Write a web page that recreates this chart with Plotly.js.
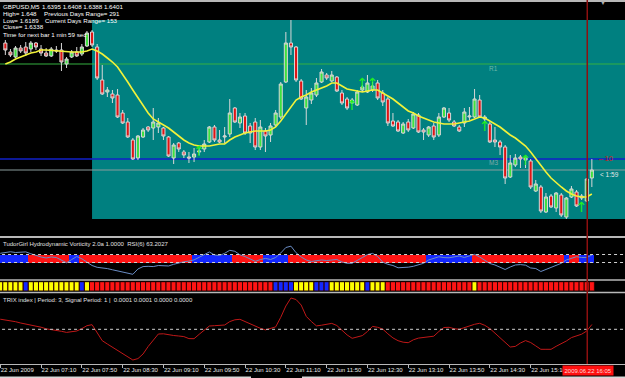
<!DOCTYPE html>
<html><head><meta charset="utf-8">
<script src="https://cdn.plot.ly/plotly-3.0.1.min.js"></script>
<style>html,body{margin:0;padding:0;background:#000;}#c{width:625px;height:378px;}</style>
</head><body><div id="c"></div>
<script>
// ---- price bars (GBPUSD M5, 22 Jun 2009, bars 06:35 .. 16:10) ----
const openP = [1.65026,1.64954,1.64914,1.64986,1.64994,1.64978,1.65026,1.64978,1.64946,1.64922,
1.64970,1.64970,1.64858,1.64914,1.64954,1.64938,1.65002,1.65114,1.64994,1.64730,
1.64634,1.64618,1.64610,1.64466,1.64394,1.64250,1.64106,1.64274,1.64354,1.64346,
1.64354,1.64346,1.64274,1.64106,1.64226,1.64154,1.64114,1.64114,1.64154,1.64178,
1.64234,1.64354,1.64250,1.64274,1.64298,1.64506,1.64386,1.64442,1.64362,1.64394,
1.64194,1.64322,1.64290,1.64370,1.64434,1.64714,1.65026,1.64994,1.64722,1.64506,
1.64570,1.64610,1.64714,1.64770,1.64722,1.64754,1.64626,1.64578,1.64546,1.64530,
1.64650,1.64634,1.64650,1.64706,1.64626,1.64578,1.64402,1.64394,1.64306,1.64394,
1.64346,1.64450,1.64330,1.64290,1.64362,1.64290,1.64434,1.64466,1.64394,1.64354,
1.64386,1.64434,1.64434,1.64570,1.64418,1.64378,1.64250,1.64234,1.64194,1.63954,
1.64050,1.64114,1.64090,1.64082,1.63842,1.63874,1.63674,1.63802,1.63706,1.63810,
1.63634,1.63794,1.63834,1.63786,1.63762,1.63946];
const highP = [1.65050,1.64978,1.65002,1.65010,1.65034,1.65042,1.65034,1.65010,1.64986,1.64994,
1.65002,1.65026,1.64914,1.64970,1.64994,1.65018,1.65122,1.65130,1.65018,1.64850,
1.64674,1.64650,1.64658,1.64490,1.64426,1.64266,1.64290,1.64346,1.64362,1.64506,
1.64426,1.64354,1.64282,1.64226,1.64234,1.64170,1.64154,1.64186,1.64186,1.64250,
1.64362,1.64370,1.64330,1.64354,1.64578,1.64514,1.64466,1.64466,1.64386,1.64426,
1.64410,1.64346,1.64386,1.64490,1.64714,1.65114,1.65210,1.65002,1.64738,1.64650,
1.64666,1.64746,1.64818,1.64786,1.64802,1.64762,1.64650,1.64594,1.64586,1.64650,
1.64690,1.64770,1.64714,1.64730,1.64650,1.64594,1.64466,1.64410,1.64394,1.64418,
1.64474,1.64466,1.64346,1.64362,1.64386,1.64466,1.64514,1.64506,1.64410,1.64370,
1.64506,1.64514,1.64658,1.64610,1.64450,1.64394,1.64354,1.64250,1.64210,1.64130,
1.64138,1.64130,1.64130,1.64098,1.63930,1.63890,1.63826,1.63818,1.63834,1.63826,
1.63794,1.63882,1.63850,1.63818,1.63946,1.64098];
const lowP = [1.64930,1.64914,1.64906,1.64946,1.64922,1.64954,1.64970,1.64922,1.64914,1.64914,
1.64946,1.64802,1.64826,1.64906,1.64914,1.64922,1.64994,1.64994,1.64730,1.64610,
1.64594,1.64546,1.64426,1.64378,1.64266,1.64090,1.64090,1.64266,1.64314,1.64250,
1.64306,1.64250,1.64114,1.64058,1.64154,1.64106,1.64066,1.64074,1.64130,1.64154,
1.64226,1.64234,1.64226,1.64226,1.64274,1.64386,1.64346,1.64290,1.64226,1.64170,
1.64170,1.64154,1.64234,1.64354,1.64418,1.64706,1.64930,1.64714,1.64570,1.64370,
1.64538,1.64594,1.64706,1.64730,1.64714,1.64634,1.64530,1.64490,1.64538,1.64522,
1.64634,1.64626,1.64634,1.64570,1.64522,1.64362,1.64354,1.64314,1.64298,1.64314,
1.64338,1.64306,1.64250,1.64274,1.64250,1.64274,1.64426,1.64394,1.64354,1.64314,
1.64354,1.64410,1.64426,1.64426,1.64394,1.64226,1.64194,1.64130,1.63898,1.63946,
1.64034,1.64026,1.64026,1.63858,1.63834,1.63666,1.63666,1.63706,1.63674,1.63634,
1.63618,1.63786,1.63714,1.63770,1.63754,1.63874];
const closeP = [1.64970,1.64930,1.64986,1.64962,1.64946,1.65026,1.64994,1.64946,1.64922,1.64978,
1.64962,1.64874,1.64898,1.64954,1.64922,1.64994,1.65106,1.65010,1.64746,1.64618,
1.64650,1.64586,1.64434,1.64386,1.64274,1.64098,1.64282,1.64330,1.64330,1.64394,
1.64386,1.64282,1.64122,1.64210,1.64178,1.64130,1.64106,1.64138,1.64162,1.64218,
1.64354,1.64250,1.64234,1.64282,1.64466,1.64394,1.64434,1.64306,1.64306,1.64194,
1.64354,1.64282,1.64362,1.64466,1.64698,1.65026,1.64994,1.64730,1.64578,1.64594,
1.64626,1.64706,1.64794,1.64746,1.64770,1.64642,1.64546,1.64506,1.64570,1.64634,
1.64674,1.64706,1.64682,1.64586,1.64554,1.64386,1.64362,1.64322,1.64378,1.64330,
1.64458,1.64314,1.64314,1.64354,1.64274,1.64434,1.64506,1.64410,1.64362,1.64322,
1.64474,1.64442,1.64578,1.64434,1.64434,1.64234,1.64234,1.64194,1.63946,1.64066,
1.64106,1.64098,1.64106,1.63874,1.63898,1.63682,1.63794,1.63714,1.63826,1.63650,
1.63786,1.63858,1.63722,1.63802,1.63938,1.64010];
// yellow moving average (same bars as candles)
const maLine = [1.64858,1.64874,1.64898,1.64914,1.64930,1.64946,1.64954,1.64970,1.64970,1.64966,
1.64962,1.64958,1.64954,1.64954,1.64954,1.64954,1.64962,1.64978,1.64962,1.64938,
1.64906,1.64874,1.64834,1.64778,1.64714,1.64650,1.64586,1.64522,1.64466,1.64418,
1.64394,1.64370,1.64346,1.64314,1.64282,1.64250,1.64226,1.64210,1.64202,1.64202,
1.64202,1.64210,1.64218,1.64218,1.64250,1.64274,1.64290,1.64306,1.64314,1.64322,
1.64322,1.64322,1.64330,1.64354,1.64402,1.64458,1.64522,1.64570,1.64594,1.64610,
1.64634,1.64650,1.64666,1.64682,1.64706,1.64706,1.64682,1.64658,1.64650,1.64642,
1.64634,1.64642,1.64650,1.64650,1.64626,1.64602,1.64578,1.64546,1.64514,1.64482,
1.64466,1.64442,1.64426,1.64410,1.64394,1.64386,1.64378,1.64378,1.64378,1.64386,
1.64394,1.64402,1.64418,1.64434,1.64426,1.64402,1.64378,1.64354,1.64322,1.64290,
1.64266,1.64234,1.64202,1.64154,1.64098,1.64042,1.63994,1.63946,1.63906,1.63874,
1.63842,1.63818,1.63802,1.63794,1.63794,1.63818];
// signal arrows (bar index, price)
const arrowBars = [39,69,71,73,95,103,114];
const arrowPrices = [1.64154,1.64522,1.64698,1.64698,1.64354,1.64082,1.63706];
// levels
const levelR1 = 1.64858, levelBlue = 1.64098;
// ---- indicator panels, bars 06:30 .. 16:10 ----
const vortState = ["BBBBBB","RRRRRRRR","BB","RRRRRRRRRRRRRRRRRRRRRR","BBBBBBBB","RRRRRR","BBBBB",
"RRRRRRRRRRRRRRRRRRRRRRRRRRR","BBBBBBBBB","RRRRRRRRRRRRRRRRRR","B","RR","BBB"].join("");
const vortLine = [63.0,65.0,66.8,65.0,65.8,66.5,61.8,57.3,53.8,51.3,
53.8,52.5,46.3,39.3,47.3,55.0,49.3,39.8,32.5,28.0,
26.8,24.8,21.8,19.3,16.3,13.8,10.5,23.8,29.8,30.5,
29.8,32.5,32.3,31.3,35.5,39.0,41.8,43.5,46.5,53.0,
60.0,66.3,58.8,57.5,63.0,70.5,68.0,59.3,54.8,49.3,
43.0,47.3,50.3,47.5,52.5,63.8,77.5,80.8,64.5,53.8,
46.3,42.5,45.0,46.3,45.0,46.3,47.5,41.3,38.0,38.0,
46.3,52.5,59.8,62.8,55.0,40.8,35.5,32.5,26.8,26.8,
28.3,30.5,33.5,38.0,46.3,51.3,54.3,52.3,51.8,54.0,
56.3,52.5,56.3,60.5,53.8,46.3,37.5,33.8,27.5,22.5,
28.8,33.8,34.8,33.3,26.3,25.0,17.5,22.5,27.5,31.3,
38.0,46.3,50.5,54.5,52.5,52.5,58.8];
const squareState = ["YYYYY","B","YYYYYYYYYY","B","Y","RRRRRRRRRRRRRRRRRRRRRRRRRRRRRRRRRRRR","BBBB","YYYY","BBB",
"YYYYYYY","B","YYY","RRRRRRRRRRRRRRRRR","Y","RRRRRRRRRRRRRRRRRRRRRRR"].join("");
const trixLine = [0.000101,0.000095,0.000088,0.000076,0.000063,0.000053,0.000043,0.000033,0.000021,0.000005,
-0.000003,-0.000006,-0.000020,-0.000031,-0.000027,-0.000017,0.000007,0.000036,0.000046,-0.000032,
-0.000114,-0.000147,-0.000180,-0.000212,-0.000243,-0.000275,-0.000307,-0.000293,-0.000247,-0.000172,
-0.000105,-0.000047,-0.000045,-0.000057,-0.000062,-0.000067,-0.000073,-0.000093,-0.000094,-0.000050,
-0.000007,0.000033,0.000036,0.000040,0.000043,0.000077,0.000095,0.000100,0.000078,0.000053,
0.000027,0.000010,-0.000006,0.000010,0.000024,0.000120,0.000233,0.000313,0.000298,0.000243,
0.000129,0.000078,0.000034,0.000041,0.000050,0.000059,0.000038,-0.000007,-0.000056,-0.000090,
-0.000080,-0.000063,-0.000022,0.000029,0.000020,0.000002,-0.000045,-0.000086,-0.000114,-0.000129,
-0.000134,-0.000105,-0.000088,-0.000084,-0.000077,-0.000069,-0.000022,0.000018,0.000020,0.000006,
0.000000,0.000019,0.000035,0.000050,0.000060,0.000040,0.000008,-0.000037,-0.000085,-0.000132,
-0.000177,-0.000171,-0.000137,-0.000113,-0.000132,-0.000166,-0.000200,-0.000200,-0.000200,-0.000170,
-0.000145,-0.000117,-0.000083,-0.000062,-0.000049,-0.000017,0.000048];
// time axis
const tickIdx = [0,8,16,24,32,40,48,56,64,72,80,88,96,104];
const tickText = ["22 Jun 2009","22 Jun 07:10","22 Jun 07:50","22 Jun 08:30","22 Jun 09:10","22 Jun 09:50",
"22 Jun 10:30","22 Jun 11:10","22 Jun 11:50","22 Jun 12:30","22 Jun 13:10","22 Jun 13:50","22 Jun 14:30","22 Jun 15:10"];
const sessionStartBar = 18;   // 08:00
const currentBar = 115.1;     // 16:05 marker

const FONT = "Liberation Sans, Arial, sans-serif";
const W = 625, H = 378;
const firstCandle = 1;
const candleX = openP.map((_, k) => k + firstCandle);
const panelX = vortLine.map((_, k) => k);
const colMap = {B: "#1428ff", R: "#ff1414", Y: "#ffff00"};

// session box from data
let sHi = -Infinity, sLo = Infinity;
candleX.forEach((x, k) => { if (x >= sessionStartBar) { sHi = Math.max(sHi, highP[k]); sLo = Math.min(sLo, lowP[k]); } });

const traces = [
  {type: "candlestick", x: candleX, open: openP, high: highP, low: lowP, close: closeP,
   xaxis: "x", yaxis: "y", whiskerwidth: 0, hoverinfo: "skip",
   increasing: {fillcolor: "#3ee23e", line: {color: "#d8d8d8", width: 1}},
   decreasing: {fillcolor: "#e01414", line: {color: "#d8d8d8", width: 1}}},
  {type: "scatter", mode: "lines", x: candleX, y: maLine, xaxis: "x", yaxis: "y",
   line: {color: "#f2f23a", width: 1.6}, hoverinfo: "skip"},
  {type: "scatter", mode: "text", x: arrowBars, y: arrowPrices, text: arrowBars.map(() => "↑"),
   textfont: {family: "DejaVu Sans", size: 14, color: "#22ee22"}, xaxis: "x", yaxis: "y", hoverinfo: "skip"},
  {type: "bar", x: panelX, y: panelX.map(() => 20), base: 40, width: 1,
   marker: {color: vortState.split("").map(c => colMap[c]), line: {width: 0}},
   xaxis: "x", yaxis: "y2", hoverinfo: "skip"},
  {type: "scatter", mode: "lines", x: panelX, y: vortLine, xaxis: "x", yaxis: "y2",
   line: {color: "#6a8cc4", width: 1}, hoverinfo: "skip"},
  {type: "bar", x: panelX, y: panelX.map(() => 1), base: 0, width: 1,
   marker: {color: squareState.split("").map(c => colMap[c]), line: {width: 1, color: "#300000"}},
   xaxis: "x", yaxis: "y3", hoverinfo: "skip"},
  {type: "scatter", mode: "lines", x: panelX, y: trixLine, xaxis: "x", yaxis: "y4",
   line: {color: "#c01818", width: 1}, hoverinfo: "skip"}
];

const py = y => (H - y) / H, px = x => x / W;
function ann(text, x, y, size, color, extra) {
  return Object.assign({text: text, xref: "paper", yref: "paper", x: px(x), y: py(y), xanchor: "left", yanchor: "middle",
    showarrow: false, font: {family: FONT, size: size, color: color}}, extra || {});
}
const info = (text, x, y) => ann(text, x, y, 6.2, "#ffffff");
const sep = (y0, y1) => ({type: "rect", xref: "paper", yref: "paper", x0: 0, x1: 1, y0: py(y1), y1: py(y0),
  fillcolor: "#b8b8b8", line: {width: 0}, layer: "above"});
const hLine = (yref, yv, color, width, dash, layer) => ({type: "line", xref: "x", yref: yref, x0: -2, x1: 130, y0: yv, y1: yv,
  line: {color: color, width: width, dash: dash || "solid"}, layer: layer});
const lastClose = closeP[closeP.length - 1];

const layout = {
  width: W, height: H, margin: {l: 0, r: 0, t: 0, b: 0}, paper_bgcolor: "#000", plot_bgcolor: "#000",
  showlegend: false, hovermode: false, dragmode: false, bargap: 0, boxgap: 0.25, boxgroupgap: 0.2,
  xaxis: {range: [-0.05, 122.5], anchor: "y4", showgrid: false, zeroline: false, showline: false,
    rangeslider: {visible: false}, tickmode: "array", tickvals: tickIdx, ticktext: tickText,
    ticks: "outside", ticklen: 3, tickcolor: "#b8b8b8", ticklabelposition: "outside right", tickangle: 0,
    tickfont: {family: FONT, size: 6, color: "#e8e8e8"}},
  yaxis: {domain: [py(235), 1], range: [1.63490, 1.65370], visible: false},
  yaxis2: {domain: [py(278.5), py(238.5)], range: [0, 100], visible: false},
  yaxis3: {domain: [py(291), py(281.7)], range: [0, 1], visible: false},
  yaxis4: {domain: [py(364), py(294)], range: [-0.000347, 0.000353], visible: false},
  shapes: [
    {type: "rect", xref: "x", yref: "y", x0: sessionStartBar, x1: 130, y0: sLo, y1: sHi,
     fillcolor: "#008080", line: {width: 0}, layer: "below"},
    hLine("y", levelR1, "#34b040", 1, "solid", "below"),
    hLine("y", levelBlue, "#1020c8", 1.5, "solid", "below"),
    hLine("y", lastClose, "#8a9c9c", 1, "solid", "below"),
    hLine("y2", 60, "#d0d0d0", 1, "dot", "above"),
    hLine("y2", 40, "#d0d0d0", 1, "dot", "above"),
    hLine("y4", 0, "#d0d0d0", 1, "dot", "above"),
    sep(0, 2), sep(236, 238), sep(279.2, 280.8), sep(291.7, 293.3), sep(364, 365),
    {type: "line", xref: "x", yref: "paper", x0: currentBar, x1: currentBar, y0: py(364), y1: 1, line: {color: "#8e1010", width: 1.5}, layer: "above"},
    {type: "rect", xref: "paper", yref: "paper", x0: 0, x1: px(251), y0: py(378), y1: py(376.5), fillcolor: "#d8d8d8", line: {width: 0}},
    {type: "rect", xref: "paper", yref: "paper", x0: px(302), x1: 1, y0: py(378), y1: py(376.5), fillcolor: "#d8d8d8", line: {width: 0}}
  ],
  annotations: [
    info("GBPUSD,M5", 1, 6),
    info("1.6395 1.6408 1.6388 1.6401", 40, 6),
    info("High= 1.648", 1, 13),
    info("Previous Days Range= 291", 42, 13),
    info("Low= 1.6189", 1, 20),
    info("Current Days Range= 153", 43, 20),
    info("Close= 1.6338", 1, 27),
    info("Time for next bar 1 min 59 sec", 1, 34),
    ann("R1", 487, 68, 6.5, "#6fb8a8"),
    ann("M3", 487, 163, 6.5, "#7fa8a8"),
    ann("←10", 595, 158, 7.5, "#d02020"),
    ann("< 1:59", 598, 174, 6.5, "#e8e8e8"),
    ann("▼", 598, 3, 6, "#b0b0b0"),
    ann("TudorGirl Hydrodynamic Vorticity 2.0a 1.0000  RSI(6) 63.2027", 1, 244, 6, "#e0e0e0"),
    ann("TRIX index | Period: 3, Signal Period: 1 |  0.0001 0.0001 0.0000 0.0000", 1, 299.5, 6, "#e0e0e0"),
    ann("2009.06.22 16:05", 562, 370.5, 6, "#ffd8d8", {bgcolor: "#ff1010", borderpad: 1.5})
  ]
};
Plotly.newPlot("c", traces, layout, {staticPlot: true, displayModeBar: false});
</script></body></html>
